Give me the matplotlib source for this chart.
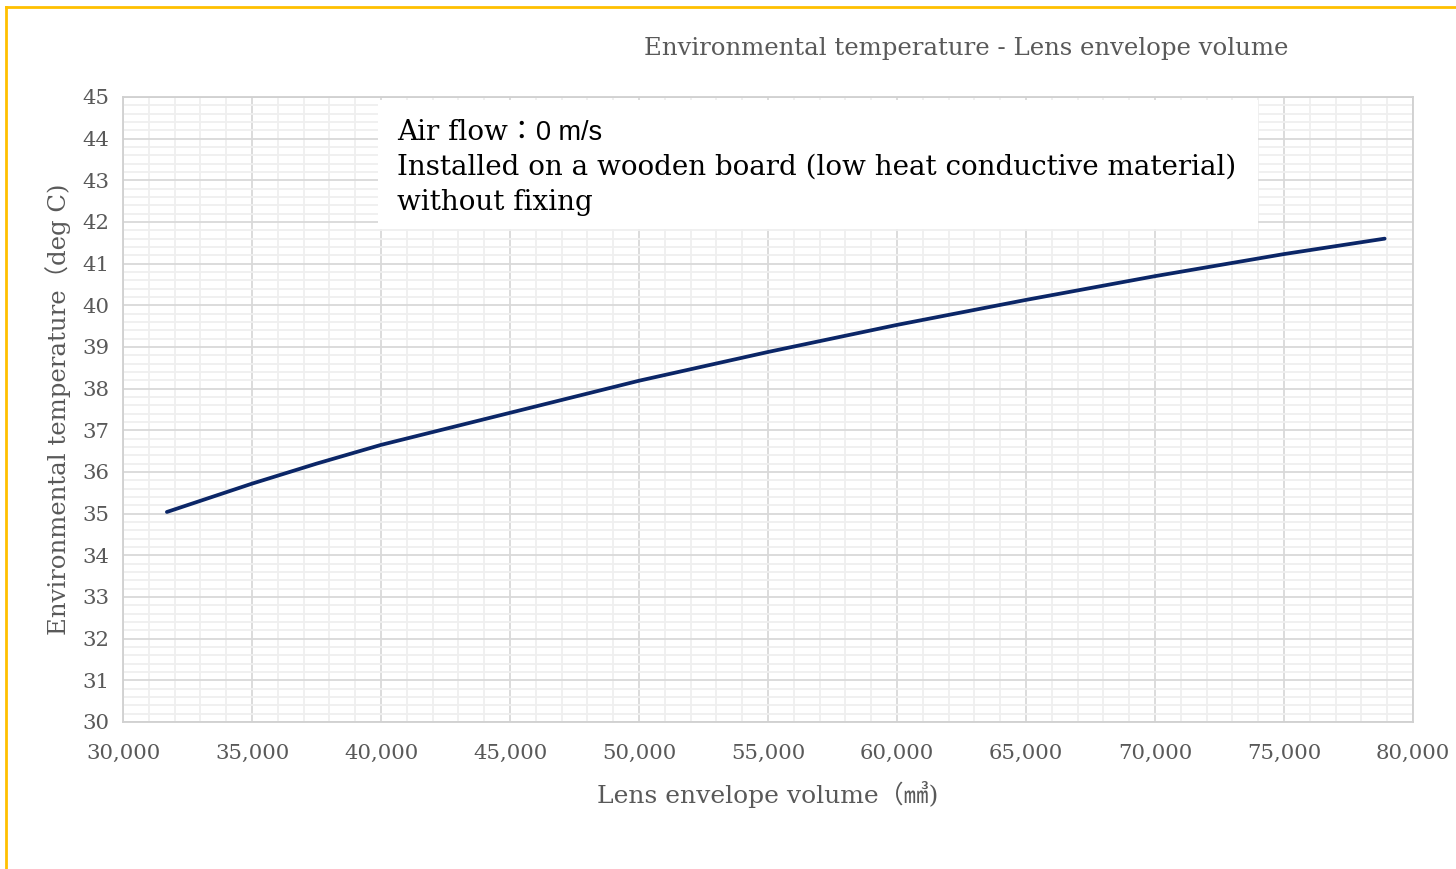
import numpy as np
import matplotlib.pyplot as plt
from matplotlib.ticker import MultipleLocator, FuncFormatter
from matplotlib.patches import Rectangle
from matplotlib.lines import Line2D

# lens envelope volume (mm^3) vs environmental temperature (deg C)
volume = [31700, 35000, 37500, 40000, 45000, 50000, 55000, 60000, 65000, 70000, 75000, 78900]
temperature = [35.04, 35.72, 36.20, 36.65, 37.42, 38.19, 38.88, 39.53, 40.13, 40.70, 41.23, 41.60]

title = 'Environmental temperature - Lens envelope volume'
xlabel = 'Lens envelope volume（㎣)'
ylabel = 'Environmental temperature（deg C)'
note_lines = ['Installed on a wooden board (low heat conductive material)', 'without fixing']

serif = ['DejaVu Serif', 'Noto Sans CJK JP']
grey_txt = '#595959'

fig = plt.figure(figsize=(14.56, 8.69), dpi=100)
ax = fig.add_axes([0.0845, 0.1692, 0.886, 0.7192])

ax.plot(volume, temperature, color='#0b2667', lw=2.7, solid_capstyle='round',
        solid_joinstyle='round', zorder=5)

ax.set_xlim(30000, 80000)
ax.set_ylim(30, 45)
ax.xaxis.set_major_locator(MultipleLocator(5000))
ax.xaxis.set_minor_locator(MultipleLocator(1000))
ax.yaxis.set_major_locator(MultipleLocator(1))
ax.yaxis.set_minor_locator(MultipleLocator(0.2))
ax.xaxis.set_major_formatter(FuncFormatter(lambda v, p: f'{int(v):,}'))
ax.grid(which='major', color='#d9d9d9', lw=1.3, zorder=1)
ax.grid(which='minor', color='#efefef', lw=1.3, zorder=0)
ax.set_axisbelow(True)
ax.tick_params(which='both', length=0, pad=10, labelsize=15.3, labelcolor=grey_txt)
ax.tick_params(axis='x', pad=16)
for lab in ax.get_xticklabels() + ax.get_yticklabels():
    lab.set_family(serif)
for s in ax.spines.values():
    s.set_color('#d0d0d0')
    s.set_linewidth(1.3)

ax.set_xlabel(xlabel, family=serif, fontsize=18, color=grey_txt, labelpad=13)
ax.set_ylabel(ylabel, family=serif, fontsize=17.6, color=grey_txt, labelpad=8)
fig.text(0.6638, 0.944, title, family=serif, fontsize=17.6, color=grey_txt, ha='center', va='center')

# annotation box
ax.add_patch(Rectangle((0.1977, 0.789), 0.6823, 0.206, transform=ax.transAxes,
                       facecolor='white', edgecolor='none', zorder=3))
t1 = ax.text(0.2124, 0.931, 'Air flow：', transform=ax.transAxes, family=serif,
             fontsize=20, color='black', va='baseline', zorder=6)
ax.annotate('0 m/s', xy=(1, 0), xycoords=t1, va='bottom', family='Liberation Sans',
            fontsize=19.5, color='black', zorder=6)
ax.text(0.2124, 0.875, note_lines[0], transform=ax.transAxes, family=serif,
        fontsize=20, color='black', va='baseline', zorder=6)
ax.text(0.2124, 0.819, note_lines[1], transform=ax.transAxes, family=serif,
        fontsize=20, color='black', va='baseline', zorder=6)

# yellow frame on top and left
fig.add_artist(Line2D([0.004, 1.0], [0.992, 0.992], color='#ffc000', lw=2))
fig.add_artist(Line2D([0.004, 0.004], [0.0, 0.992], color='#ffc000', lw=2))

fig.savefig('out.png', dpi=100)
